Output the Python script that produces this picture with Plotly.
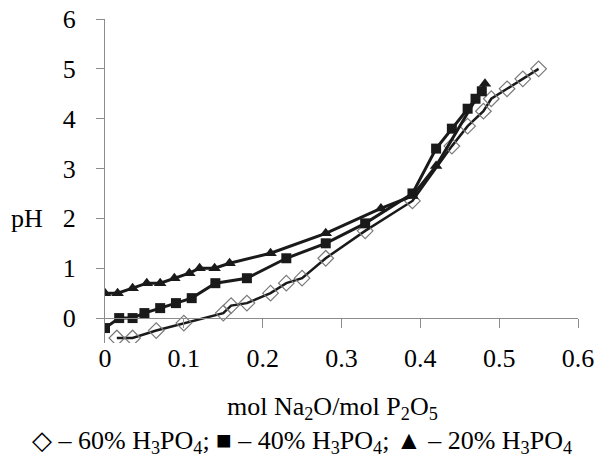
import plotly.graph_objects as go

# 60% H3PO4 (open diamonds)
x60 = [0.015, 0.035, 0.065, 0.10, 0.15, 0.16, 0.18, 0.21, 0.23, 0.25, 0.28, 0.33, 0.39, 0.44, 0.46, 0.48, 0.49, 0.51, 0.53, 0.55]
ph60 = [-0.4, -0.4, -0.25, -0.1, 0.1, 0.25, 0.3, 0.5, 0.7, 0.8, 1.2, 1.75, 2.35, 3.45, 3.85, 4.15, 4.4, 4.6, 4.8, 5.0]

# 40% H3PO4 (filled squares)
x40 = [0.0, 0.018, 0.035, 0.05, 0.07, 0.09, 0.11, 0.14, 0.18, 0.23, 0.28, 0.33, 0.39, 0.42, 0.44, 0.46, 0.47, 0.478]
ph40 = [-0.2, 0.0, 0.0, 0.1, 0.2, 0.3, 0.4, 0.7, 0.8, 1.2, 1.5, 1.9, 2.5, 3.4, 3.8, 4.2, 4.4, 4.55]

# 20% H3PO4 (filled triangles)
x20 = [0.0, 0.016, 0.035, 0.053, 0.07, 0.088, 0.107, 0.12, 0.139, 0.158, 0.21, 0.28, 0.35, 0.39, 0.42, 0.482]
ph20 = [0.5, 0.5, 0.6, 0.7, 0.7, 0.8, 0.9, 1.0, 1.0, 1.1, 1.3, 1.7, 2.2, 2.45, 3.05, 4.7]

x_ticks = [0, 0.1, 0.2, 0.3, 0.4, 0.5, 0.6]
x_tick_text = ["0", "0.1", "0.2", "0.3", "0.4", "0.5", "0.6"]
y_ticks = [0, 1, 2, 3, 4, 5, 6]

FONT = "Liberation Serif"
FS = 26
AXIS_COLOR = "#8c8c8c"

fig = go.Figure()
fig.add_trace(go.Scatter(
    x=x60, y=ph60, mode="lines+markers",
    line=dict(color="#1a1a1a", width=2.5),
    marker=dict(symbol="diamond-open", size=12, color="#7a7a7a", line=dict(width=1.2, color="#7a7a7a")),
))
fig.add_trace(go.Scatter(
    x=x40, y=ph40, mode="lines+markers",
    line=dict(color="#1a1a1a", width=3),
    marker=dict(symbol="square", size=10, color="#1a1a1a"),
))
fig.add_trace(go.Scatter(
    x=x20, y=ph20, mode="lines+markers",
    line=dict(color="#1a1a1a", width=3),
    marker=dict(symbol="triangle-up", size=11, color="#1a1a1a"),
))

ymin, ymax = -0.5, 6
zero_pos = (0 - ymin) / (ymax - ymin)

fig.update_layout(
    width=595, height=463,
    margin=dict(l=105, r=17, t=19, b=120, autoexpand=False),
    paper_bgcolor="white", plot_bgcolor="white",
    showlegend=False,
    font=dict(family=FONT, size=FS, color="black"),
    xaxis=dict(
        range=[0, 0.6], tickvals=x_ticks, ticktext=x_tick_text,
        showline=False, showgrid=False, zeroline=False, ticks="", automargin=False,
        ticklabelstandoff=-3,
        tickfont=dict(family=FONT, size=FS, color="black"),
    ),
    xaxis2=dict(
        range=[0, 0.6], overlaying="x", anchor="free", position=zero_pos, side="bottom",
        tickvals=x_ticks[1:], showticklabels=False, ticks="outside", ticklen=9,
        tickcolor=AXIS_COLOR, showline=True, linecolor=AXIS_COLOR, linewidth=1.3,
        showgrid=False, zeroline=False, automargin=False,
    ),
    yaxis=dict(
        range=[ymin, ymax], tickvals=y_ticks, automargin=False,
        showline=True, linecolor=AXIS_COLOR, linewidth=1.3,
        ticks="outside", ticklen=8, tickcolor=AXIS_COLOR,
        showgrid=False, zeroline=False, ticklabelstandoff=15,
        tickfont=dict(family=FONT, size=FS, color="black"),
    ),
    annotations=[
        dict(text="pH", xref="paper", yref="y", x=-0.164, y=2, showarrow=False,
             xanchor="center", yanchor="middle", font=dict(family=FONT, size=FS)),
        dict(text="mol Na<sub>2</sub>O/mol P<sub>2</sub>O<sub>5</sub>", xref="paper", yref="paper",
             x=(332 - 105) / 473, y=(343 - 408) / 324, showarrow=False, xanchor="center", yanchor="middle",
             font=dict(family=FONT, size=FS)),
        dict(text="\u25C7 \u2013 60% H<sub>3</sub>PO<sub>4</sub>; \u25A0 \u2013 40% H<sub>3</sub>PO<sub>4</sub>; \u25B2 \u2013 20% H<sub>3</sub>PO<sub>4</sub>",
             xref="paper", yref="paper", x=(302 - 105) / 473, y=(343 - 442) / 324, showarrow=False,
             xanchor="center", yanchor="middle", font=dict(family=FONT, size=FS)),
    ],
)
# invisible trace to ensure the overlay axis is drawn
fig.add_trace(go.Scatter(x=[0.3], y=[0], xaxis="x2", mode="markers",
                         marker=dict(size=0.1, opacity=0), hoverinfo="skip"))

fig.write_html("out.html", config={"displayModeBar": False},
               post_script="document.body.style.margin='0';document.body.style.overflow='hidden';")
